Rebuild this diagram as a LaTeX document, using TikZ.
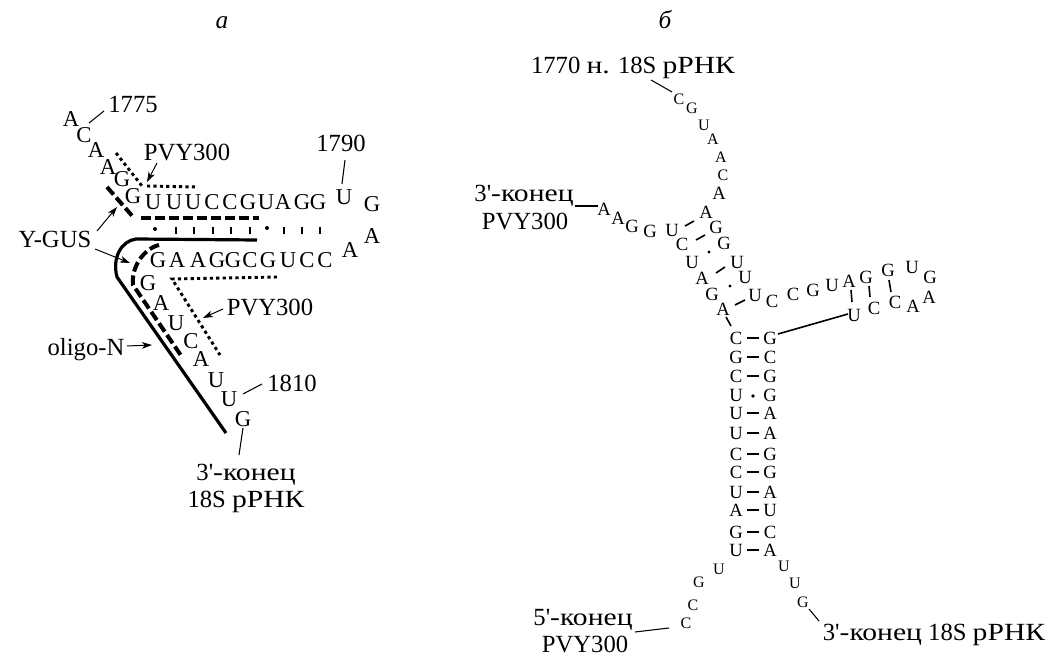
\documentclass[tikz,border=0pt]{standalone}
\usepackage{fontspec}
\setmainfont{Liberation Serif}
\newfontfamily\cyrwide[FakeStretch=1.2]{Liberation Serif}
\usetikzlibrary{arrows.meta}
\newcommand{\qs}{\textquotesingle}
\newcommand{\cw}[1]{{\cyrwide #1}}
\tikzset{
 x=0.75pt,y=-0.75pt,
 lab/.style={inner sep=0pt,text height=12.2pt,text depth=0pt,font=\fontsize{18.5pt}{20pt}\selectfont,align=center},
 captext/.style={inner sep=0pt,text height=8pt,text depth=0pt,font=\itshape\fontsize{19pt}{20pt}\selectfont},
 la/.style={inner sep=0pt,text height=11.2pt,text depth=0pt,font=\fontsize{17pt}{18pt}\selectfont},
 lb/.style={inner sep=0pt,text height=9.2pt,text depth=0pt,font=\fontsize{14pt}{15pt}\selectfont},
 ls/.style={inner sep=0pt,text height=8pt,text depth=0pt,font=\fontsize{12pt}{13pt}\selectfont},
 thin line/.style={line width=0.8pt},
 arr/.style={line width=0.75pt,-{Stealth[length=7.5pt,width=5pt,inset=2pt]}},
 bond/.style={line width=1.2pt,shorten <=8.6pt,shorten >=8.6pt},
 lbond/.style={line width=1.2pt},
 tick/.style={line width=1pt},
 dotline/.style={line width=2.2pt,dash pattern=on 2.4pt off 2.4pt},
 dashline/.style={line width=3pt,dash pattern=on 7.5pt off 3pt},
 solidline/.style={line width=2.4pt,line join=round},
}
\begin{document}
\begin{tikzpicture}
\useasboundingbox (0,0) rectangle (1048,655);
% captions
\node[captext] (capa) at (222,23) {а};
\node[captext] (capb) at (665,23) {б};
% panel a letters
\foreach \n/\x/\y/\t in {a1/71/119/A,a2/84/135/C,a3/96/150/A,a4/108/167/A,a5/122/179/G,a6/133/196/G,
 a7/153/202/U,a8/174/202/U,a9/193/202/U,a10/212/202/C,a11/230/202/C,a12/248/202/G,a13/266/202/U,a14/283/202/A,a15/302/202/G,a16/318/202/G,
 a17/344/197/U,a18/372/204/G,a19/372/236/A,a20/350/250/A,
 a21/325/260/C,a22/307/260/C,a23/288/260/U,a24/268/260/G,a25/250/260/C,a26/233/260/G,a27/217/260/G,a28/198/260/A,a29/177/260/A,a30/158/260/G,
 a31/148/283/G,a32/161/303/A,a33/176/323/U,a34/191/341/C,a35/201/359/A,a36/216/380/U,a37/229/399/U,a38/243/419/G}
 {\node[la] (\n) at (\x,\y) {\t};}
% panel a labels
\node[lab] (l1775) at (133,104) {1775};
\node[lab] (lpvya) at (187,152) {PVY300};
\node[lab] (lygus) at (55,239) {Y-GUS};
\node[lab] (lpvyb) at (270,307) {PVY300};
\node[lab] (loligo) at (86,347) {oligo-N};
\node[lab] (l1810) at (292,383) {1810};
\node[lab] (l1790) at (341,143) {1790};
\node[lab] (lend1) at (246,472) {3\qs\cw{-конец}};
\node[lab] (lend2) at (246,499) {18S \cw{рРНК}};
% panel a leader lines
\coordinate (c1) at (104,111); \coordinate (c2) at (89,123);
\coordinate (c3) at (345,160); \coordinate (c4) at (342,184);
\coordinate (c5) at (262,384); \coordinate (c6) at (243,394);
\coordinate (c7) at (243,428); \coordinate (c8) at (239,455);
\draw[thin line] (c1)--(c2) (c3)--(c4) (c5)--(c6) (c7)--(c8);
% panel a arrows
\coordinate (d1) at (157,163); \coordinate (d2) at (147,182);
\coordinate (d3) at (97,231); \coordinate (d4) at (117,207);
\coordinate (d5) at (95,249); \coordinate (d6) at (130,263);
\coordinate (d7) at (223,309); \coordinate (d8) at (203,318);
\coordinate (d9) at (127,346); \coordinate (d10) at (152,345);
\draw[arr] (d1)--(d2);
\draw[arr] (d3)--(d4);
\draw[arr] (d5)--(d6);
\draw[arr] (d7)--(d8);
\draw[arr] (d9)--(d10);
% panel a probes
\draw[dotline] (116,153)--(142,186);
\draw[dotline] (147,186)--(197,187);
\draw[dashline] (107,187)--(134,218);
\draw[dashline] (141,218)--(259,218);
\draw[dotline] (277,277)--(172,279)--(220,355);
\draw[dashline] (159,245) .. controls (143,249) and (131,268) .. (133,285) -- (182,357);
\draw[solidline] (257,240)--(136,239) .. controls (121,241) and (112,258) .. (117,277) -- (226,433);
% panel a pair marks
\fill (155,229) circle (2);
\fill (267,228) circle (2);
\foreach \x in {176,194,213,231,250,284,302,320}
 \draw[tick] (\x,227)--(\x,234);
% panel b letters
\foreach \n/\x/\y/\t in {t1/679/99/C,t2/692/108/G,t3/704/125/U,t4/713/139/A,t5/721/157/A,t6/723/175/C}
 {\node[ls] (\n) at (\x,\y) {\t};}
\foreach \n/\x/\y/\t in {t7/719/193/A,t8/706/212/A,t9/716/227/G,t10/724/243/G,t11/737/262/U,t12/745/277/U,t13/755/295/U,t14/772/301/C,
 t15/793/294/C,t16/813/290/G,t17/832/285/U,t18/849/281/A,t19/866/277/G,t20/888/270/G,t21/912/267/U,t22/930/277/G,
 t23/929/297/A,t24/913/306/A,t25/895/302/C,t26/874/308/C,t27/854/315/U,
 w1/604/209/A,w2/618/218/A,w3/632/226/G,w4/650/231/G,w5/672/230/U,w6/682/244/C,w7/692/262/U,w8/702/278/A,w9/712/294/G,w10/723/309/A}
 {\node[lb] (\n) at (\x,\y) {\t};}
% stem
\foreach \n/\y/\p/\q in {1/338/C/G,2/357/G/C,3/376/C/G,4/395/U/G,5/413/U/A,6/433/U/A,7/454/C/G,8/472/C/G,9/492/U/A,10/510/A/U,11/532/G/C,12/550/U/A}
 {\node[lb] (sl\n) at (736,\y) {\p};
  \node[lb] (sr\n) at (770,\y) {\q};}
\foreach \n in {1,2,3,5,6,7,8,9,10,11,12}
 \draw[bond] (sl\n.center)--(sr\n.center);
\fill (753,396) circle (1.8);
% tails
\foreach \n/\x/\y/\t in {e1/719/569/U,e2/699/582/G,e3/693/605/C,e4/686/623/C,e5/784/566/U,e6/795/583/U,e7/803/602/G}
 {\node[ls] (\n) at (\x,\y) {\t};}
% panel b labels
\node[lab] (l1770) at (633,65) {1770 \cw{н.} 18S \cw{рРНК}};
\node[lab] (lw1) at (524,193) {3\qs\cw{-конец}};
\node[lab] (lw2) at (525,221) {PVY300};
\node[lab] (lf1) at (583,617) {5\qs\cw{-конец}};
\node[lab] (lf2) at (585,644) {PVY300};
\node[lab] (lt1) at (934,632) {3\qs\cw{-конец} 18S \cw{рРНК}};
% panel b leaders
\coordinate (f1) at (651,80); \coordinate (f2) at (672,92);
\coordinate (f3) at (575,206); \coordinate (f4) at (598,206);
\coordinate (f5) at (635,632); \coordinate (f6) at (669,628);
\coordinate (f7) at (809,609); \coordinate (f8) at (819,621);
\draw[thin line] (f1)--(f2) (f5)--(f6) (f7)--(f8);
\draw[line width=1.5pt] (f3)--(f4);
% panel b bonds
\foreach \a/\b/\c/\d in {685/226/694/221,696/240/705/235,716/273/725/267,735/305/745/300,726/317/731/326,778/334/848/314,851/290/852/302,869/286/870/297,889/280/891/292}
 {\coordinate (ba) at (\a,\b); \coordinate (bb) at (\c,\d); \draw[lbond] (ba)--(bb);}
\fill (709,252) circle (1.6);
\fill (730,286) circle (1.6);
\end{tikzpicture}
\end{document}
